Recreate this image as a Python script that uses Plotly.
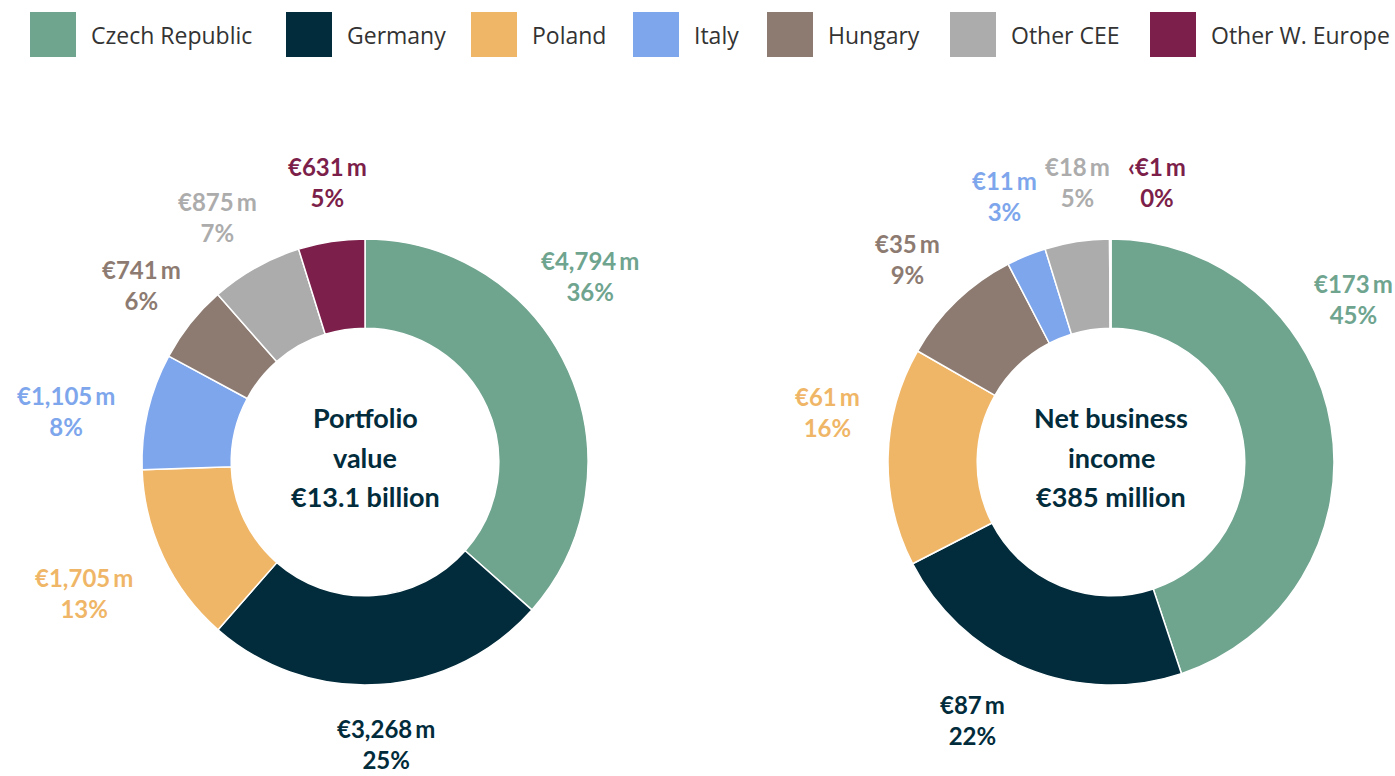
import plotly.graph_objects as go

W, H = 1395, 776

regions = ["Czech Republic", "Germany", "Poland", "Italy", "Hungary", "Other CEE", "Other W. Europe"]
colors = ["#6fa48f", "#022c3b", "#f0b667", "#7ea6ec", "#8d7b72", "#acacac", "#7c1f4a"]

# portfolio value, EUR m (clockwise from top)
pv_labels = ["Czech Republic", "Germany", "Poland", "Italy", "Hungary", "Other CEE", "Other W. Europe"]
pv_values = [4794, 3268, 1705, 1105, 741, 875, 631]
pv_text = ["€4,794\u2009m", "€3,268\u2009m", "€1,705\u2009m", "€1,105\u2009m", "€741\u2009m", "€875\u2009m", "€631\u2009m"]
pv_pct = ["36%", "25%", "13%", "8%", "6%", "7%", "5%"]

# net business income, EUR m (clockwise from top)
nbi_labels = ["Czech Republic", "Germany", "Poland", "Hungary", "Italy", "Other CEE", "Other W. Europe"]
nbi_values = [173, 87, 61, 35, 11, 18, 0.4]
nbi_text = ["€173\u2009m", "€87\u2009m", "€61\u2009m", "€35\u2009m", "€11\u2009m", "€18\u2009m", "‹€1\u2009m"]
nbi_pct = ["45%", "22%", "16%", "9%", "3%", "5%", "0%"]

# label placement (pixels), layout only
pv_pos = [(590, 276), (386, 744), (84, 593), (66, 411), (141, 285), (217, 217), (327, 182)]
nbi_pos = [(1353, 299), (972, 720), (827, 412), (908, 259), (1004, 196), (1077, 182), (1157, 182)]

cmap = dict(zip(regions, colors))


def px(x, y):
    return x / W, 1 - y / H


def domain(cx, cy, r):
    x0, y0 = px(cx - r, cy + r)
    x1, y1 = px(cx + r, cy - r)
    return dict(x=[x0, x1], y=[y0, y1])


fig = go.Figure()
for labels, values, cx in [(pv_labels, pv_values, 365), (nbi_labels, nbi_values, 1111)]:
    fig.add_trace(go.Pie(
        labels=labels, values=values, sort=False, direction="clockwise", rotation=0,
        hole=0.6, domain=domain(cx, 462, 223), textinfo="none", hoverinfo="label+value",
        marker=dict(colors=[cmap[l] for l in labels], line=dict(color="white", width=1.5)),
        showlegend=False,
    ))

annotations = []


def note(x, y, text, font, xanchor="center"):
    ax, ay = px(x, y)
    annotations.append(dict(x=ax, y=ay, xref="paper", yref="paper", showarrow=False,
                            xanchor=xanchor, yanchor="middle", text=text, font=font))


for labels, texts, pcts, pos in [(pv_labels, pv_text, pv_pct, pv_pos), (nbi_labels, nbi_text, nbi_pct, nbi_pos)]:
    for l, t, p, (x, y) in zip(labels, texts, pcts, pos):
        note(x, y, "<b>%s</b><br><b>%s</b>" % (t, p), dict(family="Lato", size=24, color=cmap[l]))

for cx, lines in [(365, ["Portfolio", "value", "€13.1 billion"]), (1111, ["Net business", "income", "€385 million"])]:
    for line, y in zip(lines, [417, 457, 497]):
        note(cx, y, "<b>%s</b>" % line, dict(family="Lato", size=27, color="#022c3b"))

# legend drawn by hand so the swatches can be large
shapes = []
swatch_x = [30, 286, 471, 633, 767, 950, 1150]
for name, sx in zip(regions, swatch_x):
    x0, y0 = px(sx, 12)
    x1, y1 = px(sx + 46, 57)
    shapes.append(dict(type="rect", xref="paper", yref="paper", x0=x0, x1=x1, y0=y1, y1=y0,
                       fillcolor=cmap[name], line=dict(width=0)))
    note(sx + 59, 35, name, dict(family="Open Sans", size=23, color="#333333"), xanchor="left")

fig.update_layout(
    width=W, height=H, margin=dict(l=0, r=0, t=0, b=0),
    paper_bgcolor="white", plot_bgcolor="white",
    annotations=annotations, shapes=shapes,
)

# drop the page's default body margin so the figure fills the window exactly
fig.write_html("out.html", config={"displayModeBar": False},
               post_script="document.body.style.margin='0';")
